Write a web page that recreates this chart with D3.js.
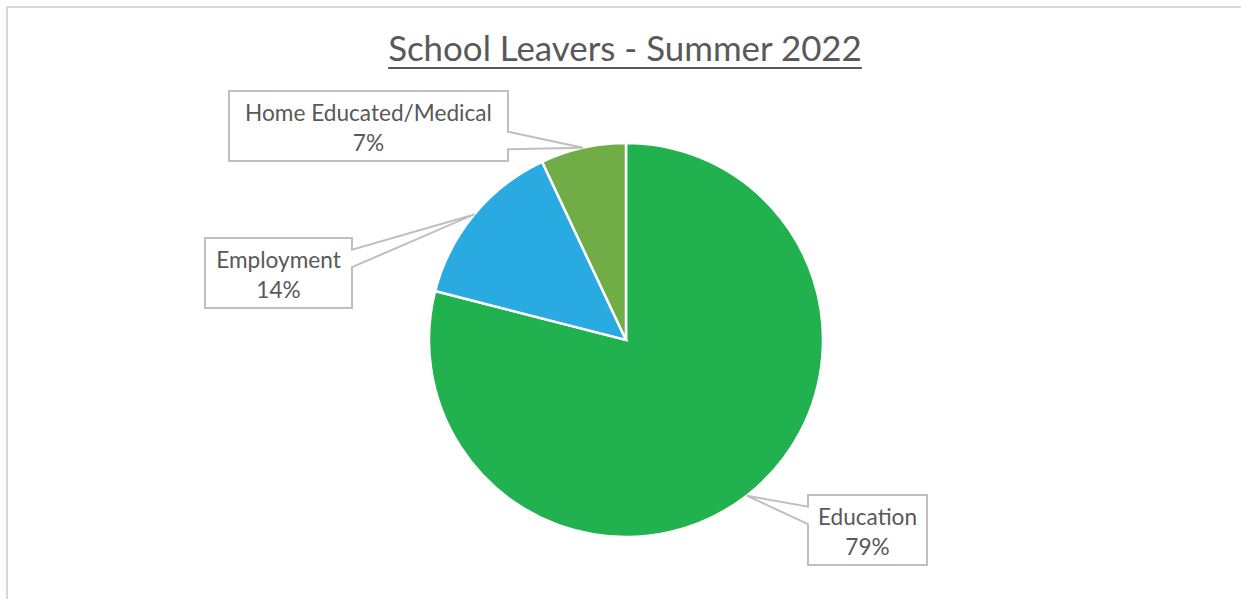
<!DOCTYPE html>
<html>
<head>
<meta charset="utf-8">
<script src="https://cdn.jsdelivr.net/npm/d3@7"></script>
<style>
  html, body { margin: 0; padding: 0; background: #ffffff; }
  svg { display: block; }
</style>
</head>
<body>
<svg id="chart" width="1241" height="599"></svg>
<script>
// ---- data ----
const chartTitle = "School Leavers - Summer 2022";
const categories = ["Education", "Employment", "Home Educated/Medical"];
const shares = [79, 14, 7];
const sliceColours = ["#21B14F", "#29ABE2", "#70AD47"];

// ---- layout ----
const width = 1241, height = 599;
const centre = { x: 626, y: 340 };
const radius = 197;
const fontStack = "Lato, 'Open Sans', 'DejaVu Sans', sans-serif";
const textColour = "#595959";
// callout boxes, one per category (same order as categories)
const calloutBoxes = [
  { x: 808, y: 495, w: 119, h: 70 },
  { x: 205, y: 238, w: 147, h: 70 },
  { x: 229, y: 91,  w: 279, h: 70 }
];

const svg = d3.select("#chart");

// chart area frame (runs off the right and bottom edges)
svg.append("rect")
  .attr("x", 7).attr("y", 7)
  .attr("width", width + 20).attr("height", height + 20)
  .attr("fill", "#ffffff")
  .attr("stroke", "#D9D9D9")
  .attr("stroke-width", 2);

// ---- title ----
const titleText = svg.append("text")
  .attr("x", 625).attr("y", 61)
  .attr("text-anchor", "middle")
  .attr("fill", textColour)
  .style("font-family", fontStack)
  .style("font-size", "36px")
  .text(chartTitle);
// scale the title so it spans its intended width
{
  const w = titleText.node().getComputedTextLength();
  titleText.style("font-size", (36 * 474 / w) + "px");
  const b = titleText.node().getBBox();
  svg.append("line")
    .attr("x1", b.x).attr("x2", b.x + b.width)
    .attr("y1", 68).attr("y2", 68)
    .attr("stroke", textColour)
    .attr("stroke-width", 2);
}

// ---- pie ----
const data = categories.map((c, i) => ({ category: c, value: shares[i], colour: sliceColours[i], box: calloutBoxes[i] }));
const total = d3.sum(shares);
const pie = d3.pie().value(d => d.value).sort(null);
const arcs = pie(data);
const arc = d3.arc().innerRadius(0).outerRadius(radius);

const g = svg.append("g").attr("transform", `translate(${centre.x},${centre.y})`);
g.selectAll("path.slice")
  .data(arcs)
  .join("path")
  .attr("class", "slice")
  .attr("d", arc)
  .attr("fill", d => d.data.colour)
  .attr("stroke", "#ffffff")
  .attr("stroke-width", 2.5)
  .attr("stroke-linejoin", "miter");

// ---- callouts (rectangular callout with wedge pointing at the slice edge) ----
function calloutPath(box, tip) {
  const { x, y, w, h } = box;
  const hc = x + w / 2, vc = y + h / 2;
  const dx = tip[0] - hc, dy = tip[1] - vc;
  const dq = dx * h / w;
  const dz = Math.abs(dy) - Math.abs(dq);
  const x1 = x + w * (dx > 0 ? 7 : 2) / 12, x2 = x + w * (dx > 0 ? 10 : 5) / 12;
  const y1 = y + h * (dy > 0 ? 7 : 2) / 12, y2 = y + h * (dy > 0 ? 10 : 5) / 12;
  const p = d3.path();
  p.moveTo(x, y);
  if (dz > 0 && dy < 0) { p.lineTo(x1, y); p.lineTo(tip[0], tip[1]); p.lineTo(x2, y); }
  p.lineTo(x + w, y);
  if (dz <= 0 && dx > 0) { p.lineTo(x + w, y1); p.lineTo(tip[0], tip[1]); p.lineTo(x + w, y2); }
  p.lineTo(x + w, y + h);
  if (dz > 0 && dy > 0) { p.lineTo(x2, y + h); p.lineTo(tip[0], tip[1]); p.lineTo(x1, y + h); }
  p.lineTo(x, y + h);
  if (dz <= 0 && dx <= 0) { p.lineTo(x, y2); p.lineTo(tip[0], tip[1]); p.lineTo(x, y1); }
  p.closePath();
  return p.toString();
}

const labels = svg.append("g");
arcs.forEach(a => {
  const mid = (a.startAngle + a.endAngle) / 2;
  const tip = [centre.x + radius * Math.sin(mid), centre.y - radius * Math.cos(mid)];
  const box = a.data.box;
  labels.append("path")
    .attr("d", calloutPath(box, tip))
    .attr("fill", "#ffffff")
    .attr("stroke", "#BFBFBF")
    .attr("stroke-width", 2)
    .attr("stroke-linejoin", "miter");
});

// label text size, fitted so the longest label reads at its intended width
const probe = svg.append("text")
  .style("font-family", fontStack).style("font-size", "22px")
  .text("Home Educated/Medical");
const labelSize = 22 * 247 / probe.node().getComputedTextLength();
probe.remove();

arcs.forEach(a => {
  const box = a.data.box;
  const cx = box.x + box.w / 2, cy = box.y + box.h / 2;
  const t = labels.append("text")
    .attr("text-anchor", "middle")
    .attr("fill", textColour)
    .style("font-family", fontStack)
    .style("font-size", labelSize + "px");
  t.append("tspan").attr("x", cx).attr("y", cy - 5).text(a.data.category);
  t.append("tspan").attr("x", cx).attr("y", cy + 25)
    .text(d3.format(".0f")(a.data.value / total * 100) + "%");
});
</script>
</body>
</html>
